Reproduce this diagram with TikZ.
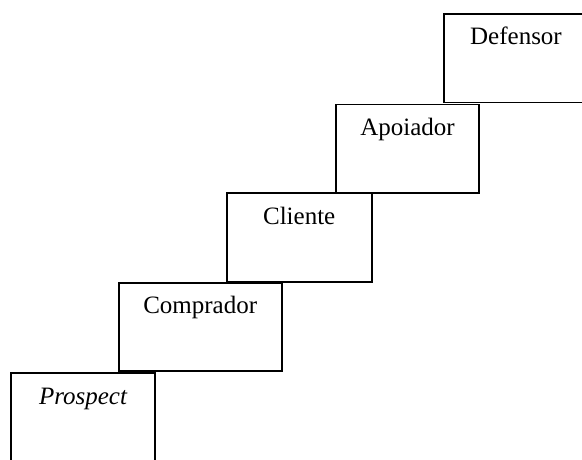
\documentclass[tikz,border=0pt]{standalone}
\usepackage{fontspec}
\setmainfont{Liberation Serif}
\begin{document}
\begin{tikzpicture}[x=1pt,y=-1pt,
  stair/.style={draw, line width=1.7pt, rectangle, anchor=north west,
    inner sep=0pt, outer sep=0pt, text height=31pt, text depth=57.6pt,
    minimum width=#1, font=\fontsize{25}{30}\selectfont},
  stair/.default=144.6pt]
  \useasboundingbox (0,0) rectangle (582,460);
  \clip (0,0) rectangle (582,460);
  % staircase of boxes, bottom-left to top-right
  \node[stair] (prospect)  at (10.7,373.3)  {\itshape Prospect};
  \node[stair=163pt] (comprador) at (118.7,282.7) {Comprador};
  \node[stair=145pt] (cliente)   at (226.7,193.3) {Cliente};
  \node[stair=143.6pt] (apoiador) at (335.7,104.5) {Apoiador};
  \node[stair=144pt] (defensor)  at (444,14)      {Defensor};
\end{tikzpicture}
\end{document}
